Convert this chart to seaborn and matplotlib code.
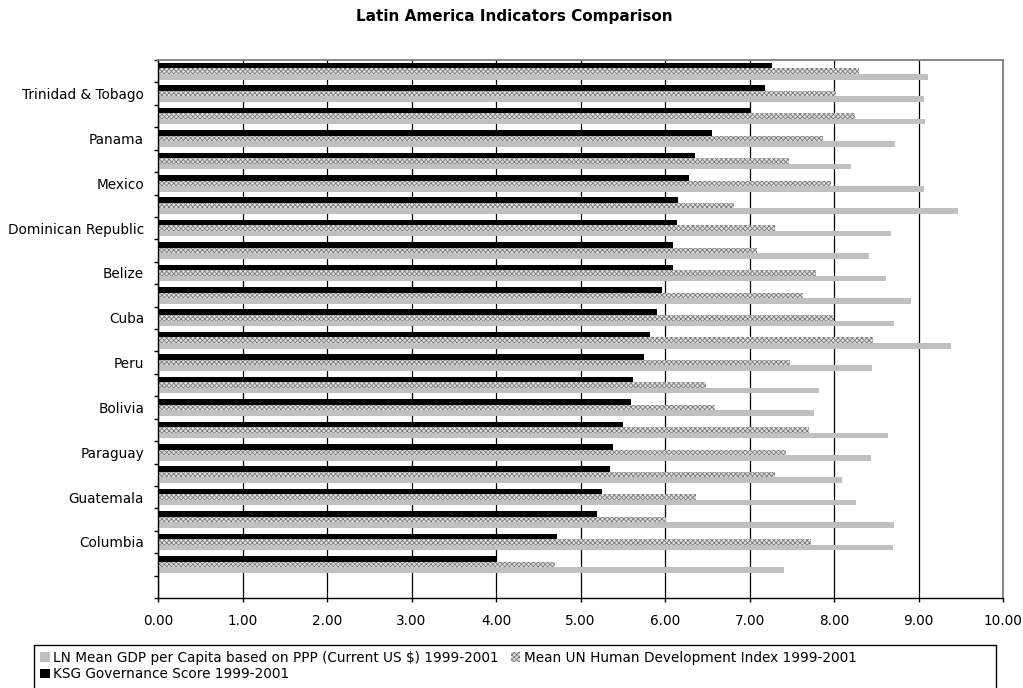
import numpy as np
import pandas as pd
import matplotlib
matplotlib.use("Agg")
import matplotlib.pyplot as plt
import seaborn as sns
from matplotlib.patches import Patch, Rectangle

# ---------------- data (top to bottom as drawn) ----------------
# Only every other category is labelled in the reference; unlabelled slots get placeholder ids.
categories = ["cat_01", "Trinidad & Tobago", "cat_03", "Panama", "cat_05", "Mexico",
              "cat_07", "Dominican Republic", "cat_09", "Belize", "cat_11", "Cuba",
              "cat_13", "Peru", "cat_15", "Bolivia", "cat_17", "Paraguay",
              "cat_19", "Guatemala", "cat_21", "Columbia", "cat_23", "cat_24"]
tick_labels = ["", "Trinidad & Tobago", "", "Panama", "", "Mexico",
               "", "Dominican Republic", "", "Belize", "", "Cuba",
               "", "Peru", "", "Bolivia", "", "Paraguay",
               "", "Guatemala", "", "Columbia", "", ""]

ksg = [7.27, 7.18, 7.00, 6.56, 6.36, 6.28, 6.15, 6.14, 6.09, 6.09, 5.96, 5.90,
       5.82, 5.75, 5.62, 5.60, 5.50, 5.39, 5.35, 5.25, 5.20, 4.72, 4.01, np.nan]
hdi = [8.30, 8.02, 8.25, 7.87, 7.47, 7.97, 6.82, 7.30, 7.09, 7.79, 7.63, 8.00,
       8.46, 7.48, 6.48, 6.59, 7.70, 7.43, 7.30, 6.37, 6.01, 7.73, 4.70, np.nan]
gdp = [9.11, 9.06, 9.08, 8.72, 8.20, 9.06, 9.47, 8.67, 8.42, 8.61, 8.91, 8.71,
       9.38, 8.45, 7.82, 7.76, 8.64, 8.44, 8.09, 8.26, 8.71, 8.70, 7.41, np.nan]

s_gdp = "LN Mean GDP per Capita based on PPP (Current US $) 1999-2001"
s_hdi = "Mean UN Human Development Index 1999-2001"
s_ksg = "KSG Governance Score 1999-2001"
x_ticks = [0, 1, 2, 3, 4, 5, 6, 7, 8, 9, 10]
title = "Latin America Indicators Comparison"

# ---------------- build long table ----------------
df = pd.DataFrame({
    "Country": categories * 3,
    "Series": [s_ksg] * len(categories) + [s_hdi] * len(categories) + [s_gdp] * len(categories),
    "Value": ksg + hdi + gdp,
}).dropna()

sns.set_theme(style="white")
plt.rcParams["font.family"] = ["DejaVu Sans"]
plt.rcParams["text.color"] = "black"
plt.rcParams["xtick.labelcolor"] = "black"
plt.rcParams["ytick.labelcolor"] = "black"
plt.rcParams["hatch.linewidth"] = 0.6

FS = 9.8
W, H = 1023, 688
fig = plt.figure(figsize=(W / 100, H / 100), dpi=100)
left, right, top, bottom = 158, 1003, 60, 598
ax = fig.add_axes([left / W, 1 - bottom / H, (right - left) / W, (bottom - top) / H])

c_gdp, c_hdi, c_ksg = "#c0c0c0", "#e0e0e0", "#000000"
sns.barplot(data=df, y="Country", x="Value", hue="Series", order=categories,
            hue_order=[s_ksg, s_hdi, s_gdp],
            palette={s_ksg: c_ksg, s_hdi: c_hdi, s_gdp: c_gdp},
            orient="h", width=0.74, errorbar=None, saturation=1, linewidth=0,
            legend=False, ax=ax)

# checker-like pattern for the HDI series
for bar in ax.containers[1]:
    bar.set_hatch("xxxxxxx")
    bar.set_edgecolor("#7a7a7a")
    bar.set_linewidth(0)

ax.set_xlim(0, 10)
ax.set_ylim(len(categories) - 0.5, -0.5)
ax.set_xlabel("")
ax.set_ylabel("")

ax.set_xticks(x_ticks)
ax.set_xticklabels([f"{v:.2f}" for v in x_ticks], fontsize=FS, color="black")
ax.tick_params(axis="x", direction="out", length=3, width=1, color="black",
               pad=8.5, bottom=True)

bounds = np.arange(-0.5, len(categories) + 0.5, 1.0)
ax.set_yticks(bounds)
ax.set_yticklabels([""] * len(bounds))
ax.tick_params(axis="y", which="major", direction="out", length=3, width=1,
               color="black", left=True)
ax.set_yticks(np.arange(len(categories)), minor=True)
ax.set_yticklabels(tick_labels, minor=True, fontsize=FS, color="black")
ax.tick_params(axis="y", which="minor", length=0, pad=10)

ax.set_axisbelow(True)
ax.xaxis.grid(True, color="#000000", linewidth=0.9)
ax.yaxis.grid(False)

for side in ["left", "bottom"]:
    ax.spines[side].set_color("black")
    ax.spines[side].set_linewidth(1.0)
for side in ["top", "right"]:
    ax.spines[side].set_color("#808080")
    ax.spines[side].set_linewidth(1.3)

fig.text(514 / W, 1 - 17 / H, title, ha="center", va="center",
         fontsize=11, fontweight="bold", color="black")

handles = [
    Patch(facecolor=c_gdp, edgecolor="none", label=s_gdp),
    Patch(facecolor=c_ksg, edgecolor="none", label=s_ksg),
    Patch(facecolor=c_hdi, edgecolor="#7a7a7a", hatch="xxxxxxx", linewidth=0, label=s_hdi),
]
fig.legend(handles=handles, ncol=2, loc="upper left",
           bbox_to_anchor=(40 / W, 1 - 651 / H), frameon=False, fontsize=FS,
           handlelength=0.7, handleheight=0.7, handletextpad=0.25,
           columnspacing=0.9, borderpad=0, borderaxespad=0, labelspacing=0.18)
fig.patches.append(Rectangle((34 / W, -0.01), (996 - 34) / W, (688 - 645) / H + 0.01,
                             transform=fig.transFigure, fill=False,
                             edgecolor="black", linewidth=1))

fig.savefig("out.png", dpi=100)
